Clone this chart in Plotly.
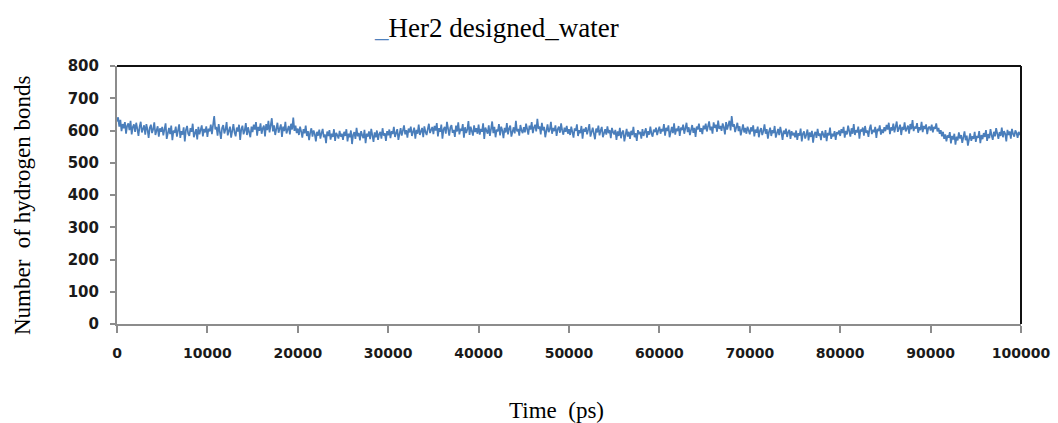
import plotly.graph_objects as go

# Sampling times (ps) and hydrogen-bond counts
time_ps = list(range(0, 100001, 125))

hbonds = [
    628, 641, 612, 633, 598, 620, 607, 626, 590, 615, 622, 601, 630, 588, 611, 619, 596, 624, 605, 583,
    612, 627, 594, 608, 616, 587, 620, 603, 577, 609, 618, 592, 604, 625, 586, 600, 613, 581, 607, 596,
    611, 585, 603, 622, 574, 596, 608, 589, 615, 570, 600, 593, 612, 581, 605, 619, 577, 598, 587, 610,
    566, 602, 614, 590, 583, 607, 596, 621, 579, 593, 604, 572, 611, 588, 599, 616, 582, 605, 594, 613,
    580, 606, 597, 618, 589, 625, 645, 603, 611, 584, 620, 596, 574, 608, 617, 591, 603, 626, 585, 599,
    612, 578, 606, 620, 594, 582, 609, 597, 618, 571, 604, 615, 588, 600, 623, 586, 610, 596, 579, 612,
    595, 618, 603, 626, 584, 611, 599, 622, 590, 607, 615, 582, 620, 601, 630, 594, 612, 638, 597, 616,
    586, 609, 624, 593, 603, 619, 580, 612, 598, 627, 591, 606, 614, 588, 621, 603, 640, 599, 615, 592,
    606, 586, 612, 597, 578, 604, 591, 615, 583, 598, 570, 594, 607, 581, 600, 589, 566, 596, 584, 603,
    575, 592, 605, 579, 588, 561, 597, 583, 601, 572, 590, 580, 604, 568, 593, 585, 575, 599, 581, 590,
    571, 596, 583, 604, 566, 590, 579, 600, 558, 587, 595, 574, 608, 582, 593, 569, 598, 585, 576, 602,
    561, 590, 581, 597, 573, 605, 586, 565, 594, 579, 600, 571, 589, 596, 575, 607, 584, 592, 568, 598,
    585, 603, 576, 598, 589, 611, 580, 596, 604, 571, 593, 607, 584, 599, 616, 588, 601, 578, 606, 594,
    612, 583, 597, 609, 575, 602, 590, 618, 586, 600, 608, 579, 613, 595, 586, 604, 621, 592, 600, 611,
    589, 614, 600, 623, 582, 607, 596, 618, 575, 604, 611, 590, 627, 598, 584, 609, 617, 593, 602, 580,
    615, 597, 625, 588, 606, 599, 620, 578, 610, 592, 603, 629, 586, 612, 600, 584, 616, 595, 607, 590,
    618, 587, 605, 596, 622, 574, 609, 601, 590, 616, 583, 604, 628, 592, 611, 579, 603, 597, 620, 585,
    612, 600, 576, 608, 594, 623, 588, 606, 615, 581, 599, 610, 591, 630, 597, 605, 584, 617, 600, 592,
    610, 594, 621, 601, 587, 615, 603, 626, 592, 609, 618, 597, 636, 605, 613, 588, 624, 600, 611, 579,
    606, 619, 595, 603, 627, 590, 608, 598, 616, 583, 604, 612, 593, 622, 600, 587, 609, 596, 614, 590,
    604, 586, 612, 595, 578, 607, 599, 619, 583, 601, 592, 614, 575, 605, 596, 610, 588, 603, 620, 581,
    598, 609, 590, 573, 606, 594, 615, 585, 600, 611, 579, 596, 604, 587, 613, 592, 601, 576, 608, 595,
    588, 602, 571, 597, 583, 608, 576, 594, 600, 566, 590, 605, 581, 596, 574, 599, 586, 611, 579, 592,
    568, 601, 589, 596, 575, 604, 583, 593, 607, 578, 598, 587, 612, 590, 581, 603, 595, 609, 586, 600,
    612, 590, 605, 597, 620, 584, 608, 599, 616, 579, 603, 611, 592, 622, 587, 606, 598, 614, 583, 609,
    601, 618, 590, 604, 624, 595, 610, 586, 600, 617, 593, 608, 580, 612, 603, 621, 596, 607, 589, 615,
    604, 621, 597, 615, 628, 601, 612, 590, 625, 608, 618, 596, 631, 605, 614, 599, 622, 610, 588, 626,
    603, 617, 630, 600, 645, 612, 620, 595, 609, 624, 598, 613, 585, 606, 619, 594, 608, 590, 612, 600,
    588, 610, 597, 616, 582, 603, 593, 612, 579, 600, 607, 586, 598, 619, 590, 604, 575, 596, 609, 583,
    601, 592, 614, 578, 597, 605, 586, 611, 593, 571, 600, 589, 606, 580, 595, 602, 574, 598, 585, 593,
    579, 600, 571, 592, 584, 606, 566, 590, 597, 575, 587, 603, 569, 594, 580, 599, 562, 588, 596, 577,
    605, 583, 591, 570, 598, 586, 578, 601, 567, 593, 585, 609, 574, 590, 582, 598, 571, 595, 588, 600,
    583, 604, 592, 611, 578, 599, 588, 615, 596, 581, 607, 590, 620, 586, 601, 594, 612, 575, 603, 597,
    609, 584, 614, 593, 600, 580, 606, 618, 589, 602, 595, 611, 577, 605, 598, 616, 587, 603, 592, 610,
    598, 617, 603, 624, 589, 610, 600, 621, 594, 613, 628, 596, 607, 618, 586, 611, 602, 625, 597, 609,
    615, 590, 620, 604, 632, 598, 612, 606, 623, 593, 610, 601, 627, 595, 614, 605, 619, 589, 608, 612,
    600, 618, 594, 611, 605, 622, 597, 608, 590, 601, 582, 596, 574, 588, 566, 585, 578, 595, 560, 583,
    572, 590, 556, 581, 569, 594, 575, 586, 562, 579, 597, 570, 584, 553, 577, 591, 568, 582, 574, 596,
    565, 583, 577, 598, 561, 586, 573, 592, 580, 601, 568, 589, 576, 604, 585, 571, 596, 582, 607, 588,
    574, 595, 583, 609, 579, 598, 590, 566, 602, 586, 597, 575, 605, 589, 581, 600, 593, 577, 596, 588,
    590,
]

x_ticks = [0, 10000, 20000, 30000, 40000, 50000, 60000, 70000, 80000, 90000, 100000]
y_ticks = [0, 100, 200, 300, 400, 500, 600, 700, 800]

title_text = "<span style='color:#4F81BD'>_</span>Her2 designed_water"
x_title = "Time  (ps)"
y_title = "Number  of hydrogen bonds"

fig = go.Figure()
fig.add_trace(go.Scatter(
    x=time_ps, y=hbonds, mode="lines",
    line=dict(color="#4A7EBB", width=1.7),
    hoverinfo="skip", showlegend=False,
))

x_tick_font = dict(family="DejaVu Sans", size=14, color="#1a1a1a", weight="bold")
y_tick_font = dict(family="DejaVu Sans", size=15, color="#1a1a1a", weight="bold")

fig.update_layout(
    width=1058, height=423,
    margin=dict(l=117, r=37, t=66, b=99, autoexpand=False),
    paper_bgcolor="white", plot_bgcolor="white",
    showlegend=False,
    xaxis=dict(
        range=[0, 100000], tickvals=x_ticks, ticktext=[str(v) for v in x_ticks],
        showgrid=False, zeroline=False, automargin=False,
        showline=True, linecolor="#8c8c8c", linewidth=2,
        ticks="outside", ticklen=7, tickcolor="#8c8c8c", tickwidth=1.5,
        tickfont=x_tick_font, ticklabelstandoff=8,
    ),
    yaxis=dict(
        range=[0, 800], tickvals=y_ticks, ticktext=[str(v) for v in y_ticks],
        showgrid=False, zeroline=False, automargin=False,
        showline=True, linecolor="#8c8c8c", linewidth=2,
        ticks="outside", ticklen=5, tickcolor="#8c8c8c", tickwidth=1.5,
        tickfont=y_tick_font, ticklabelstandoff=8,
    ),
    shapes=[
        dict(type="line", xref="paper", yref="paper", x0=0, x1=1, y0=1, y1=1,
             line=dict(color="#111111", width=2)),
        dict(type="line", xref="paper", yref="paper", x0=1, x1=1, y0=0, y1=1,
             line=dict(color="#111111", width=2)),
    ],
    annotations=[
        dict(text=title_text, xref="paper", yref="paper", x=0.42, y=1.0,
             yshift=38, xanchor="center", yanchor="middle", showarrow=False,
             font=dict(family="Liberation Serif", size=27, color="black")),
        dict(text=x_title, xref="paper", yref="paper", x=0.486, y=0.0,
             yshift=-86, xanchor="center", yanchor="middle", showarrow=False,
             font=dict(family="Liberation Serif", size=23, color="black")),
        dict(text=y_title, xref="paper", yref="paper", x=0.0, y=0.5,
             xshift=-95, yshift=-11, xanchor="center", yanchor="middle", showarrow=False,
             textangle=-90,
             font=dict(family="Liberation Serif", size=23, color="black")),
    ],
)

# drop the page body's default 8px margin so the figure fills the window exactly
fig.write_html(
    "out.html",
    config={"displayModeBar": False},
    post_script="document.body.style.margin='0';document.body.style.overflow='hidden';",
)
